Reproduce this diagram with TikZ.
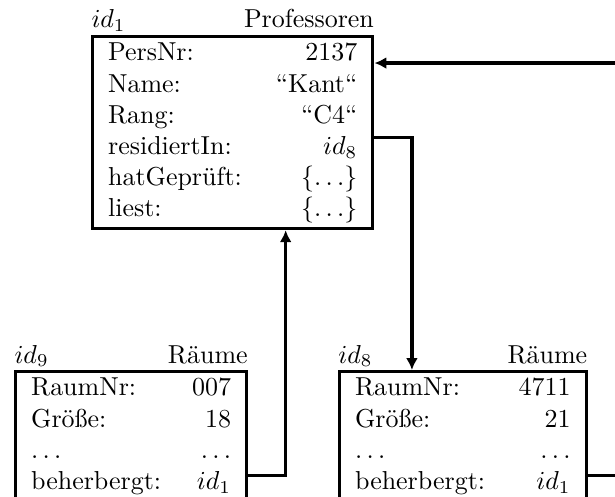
\documentclass[tikz,border=0pt]{standalone}
\usepackage{tikz}
\usetikzlibrary{positioning, arrows.meta}

\begin{document}
\begin{tikzpicture}[>={Latex[length=1.6mm, width=1.6mm]},
    objekt/.style={draw, rectangle, very thick, inner xsep=6pt, inner ysep=1pt, anchor=north west},
    kopf/.style={inner sep=0pt}]

        \useasboundingbox (0,0) rectangle (8.327,-6.729);
        \clip (0,0) rectangle (8.327,-6.729);

        \node (prof) [objekt] at (1.232,-0.474) {%
            \begin{tabular*}{96pt}{@{}l@{\extracolsep{\fill}}r@{}}
            PersNr: & 2137\\
            Name: & ``Kant``\\
            Rang: & ``C4``\\
            residiertIn: & $id_8$\\
            hatGeprüft: & $\{\ldots\}$\\
            liest: & $\{\ldots\}$
            \end{tabular*}};
        \node (raum9) [objekt] at (0.190,-5.01) {%
            \begin{tabular*}{77pt}{@{}l@{\extracolsep{\fill}}r@{}}
            RaumNr: & 007\\
            Größe: & 18\\
            $\ldots$ & $\ldots$\\
            beherbergt: & $id_1$
            \end{tabular*}};
        \node (raum8) [objekt] at (4.576,-5.01) {%
            \begin{tabular*}{83pt}{@{}l@{\extracolsep{\fill}}r@{}}
            RaumNr: & 4711\\
            Größe: & 21\\
            $\ldots$ & $\ldots$\\
            beherbergt: & $id_1$
            \end{tabular*}};

        \node (prof-id) [kopf, anchor=base west] at ([yshift=2.7pt] prof.north west) {$id_1$};
        \node (prof-typ) [kopf, anchor=base east] at ([yshift=2.7pt] prof.north east) {Professoren};
        \node (raum9-id) [kopf, anchor=base west] at ([yshift=2.7pt] raum9.north west) {$id_9$};
        \node (raum9-typ) [kopf, anchor=base east] at ([yshift=2.7pt] raum9.north east) {Räume};
        \node (raum8-id) [kopf, anchor=base west] at ([yshift=2.7pt] raum8.north west) {$id_8$};
        \node (raum8-typ) [kopf, anchor=base east] at ([yshift=2.7pt] raum8.north east) {Räume};

        \draw [->, very thick] ([yshift=-39.6pt] prof.north east) -| ([xshift=28.5pt] raum8.north west);
        \draw [->, very thick] ([yshift=-40.8pt] raum9.north east) -| ([xshift=75pt] prof.south west);
        \draw [->, very thick] ([yshift=-40.8pt] raum8.north east) -- ++(25pt,0) |- ([yshift=-10.8pt] prof.north east);
    \end{tikzpicture}
\end{document}
